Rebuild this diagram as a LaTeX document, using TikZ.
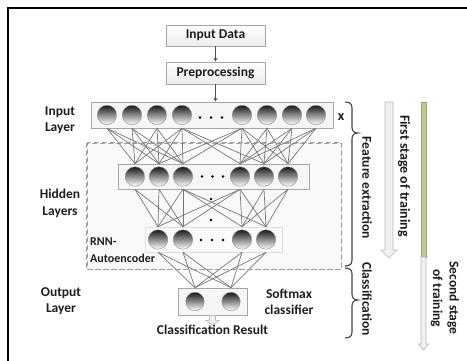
\documentclass[tikz,border=0pt]{standalone}
\usepackage{fontspec}
\setmainfont{Carlito}
\usetikzlibrary{calc,arrows.meta}
\definecolor{txt}{HTML}{1E1E1E}
\definecolor{wire}{HTML}{767676}
\definecolor{olive}{RGB}{190,202,145}
\tikzset{
  stepbox/.style={draw=gray!70, line width=0.6pt, top color=white, bottom color=gray!15,
    minimum width=99pt, minimum height=21pt, inner sep=0pt, text=txt},
  layerbox/.style={draw=gray!70, line width=0.6pt, fill=gray!7, inner sep=0pt},
  neuron/.style={circle, inner sep=0pt, minimum size=19.5pt, draw=gray!85, line width=0.4pt,
    top color=black!90, middle color=black!55, bottom color=white},
  conn/.style={draw=wire, line width=0.7pt},
  flow/.style={draw=black!70, line width=0.8pt, -{Stealth[length=4pt,width=4pt]}},
  lbl/.style={align=center, text=txt, inner sep=0pt},
  dot/.style={circle, fill=black, inner sep=0pt, minimum size=2.8pt},
  bracepath/.style={draw=black!75, line width=1.1pt},
  blockarrow/.style={draw=gray!55, line width=0.6pt, fill=gray!12},
}
\begin{document}
\begin{tikzpicture}[x=1pt,y=-1pt,font=\fontsize{13.5}{16.5}\selectfont\bfseries]
\useasboundingbox (0,0) rectangle (467,360);
% frame
\draw[line width=1.4pt] (8,362) -- (8,8) -- (469,8);

% autoencoder region
\node[draw=gray!75, dashed, dash pattern=on 5pt off 3pt, line width=1pt, fill=gray!5,
  minimum width=254pt, minimum height=126pt, inner sep=0pt] (ae) at (214,206) {};
\node[lbl, anchor=north west, align=left, font=\fontsize{12}{16.5}\selectfont\bfseries] (aelbl) at (90,238) {RNN-\\Autoencoder};

% processing steps
\node[stepbox] (data) at (215.5,35.5) {Input Data};
\node[stepbox, minimum height=22pt] (prep) at (215.5,73) {Preprocessing};

% layer boxes
\node[layerbox, minimum width=242pt, minimum height=26pt] (inl) at (212,115) {};
\node[layerbox, minimum width=191pt, minimum height=25pt] (hb) at (213.5,176.5) {};
\node[layerbox, draw=gray!25, fill=white!97!gray, minimum width=137pt, minimum height=25pt] (gb) at (213.5,239.5) {};
\node[layerbox, minimum width=69pt, minimum height=27pt] (ob) at (212.5,301.5) {};

\draw[flow] (data) -- (prep);
\draw[flow] (prep.south) -- (prep.south |- inl.north);

% neurons
\foreach \n/\x in {1/107,2/132,3/157,4/182,5/242,6/267,7/292,8/316}
  \node[neuron] (i\n) at (\x,115) {};
\foreach \n/\x in {1/135,2/159,3/183,4/240,5/264,6/288}
  \node[neuron] (h\n) at (\x,176.5) {};
\foreach \n/\x in {1/158,2/183,3/242,4/266}
  \node[neuron] (g\n) at (\x,239.5) {};
\foreach \n/\x in {1/195,2/231}
  \node[neuron, minimum size=18.5pt] (o\n) at (\x,301.5) {};

% ellipsis dots
\foreach \x in {200,211,222} \node[dot] at (\x,117.5) {};
\foreach \x in {202,212.5,223} \node[dot] at (\x,176.5) {};
\foreach \x in {201,212,223} \node[dot] at (\x,240) {};
\node[dot] at (211,199) {};
\node[dot] at (211,220) {};

% weights: input -> first hidden
\foreach \a in {1,2,3,4} \foreach \b in {1,2,3}
  \draw[conn] (i\a |- inl.south) -- (h\b |- hb.north);
\foreach \a in {5,6,7,8} \foreach \b in {4,5,6}
  \draw[conn] (i\a |- inl.south) -- (h\b |- hb.north);
\foreach \a/\b in {4/4,4/5,5/3,5/2}
  \draw[conn] (i\a |- inl.south) -- (h\b |- hb.north);
% first hidden -> second hidden
\foreach \a in {1,2,3} \foreach \b in {1,2}
  \draw[conn] (h\a |- hb.south) -- (g\b |- gb.north);
\foreach \a in {4,5,6} \foreach \b in {3,4}
  \draw[conn] (h\a |- hb.south) -- (g\b |- gb.north);
\foreach \a/\b in {3/3,3/4,4/1,4/2}
  \draw[conn] (h\a |- hb.south) -- (g\b |- gb.north);
% second hidden -> output
\foreach \a in {1,2,3,4} \foreach \b in {1,2}
  \draw[conn] (g\a |- gb.south) -- (o\b |- ob.north);

% redraw dashed outline over the wires
\draw[draw=gray!75, dashed, dash pattern=on 5pt off 3pt, line width=1pt] (ae.north west) rectangle (ae.south east);

% side labels
\node[lbl] (linl) at (60,120) {Input\\Layer};
\node[lbl] (lhid) at (60,203.5) {Hidden\\Layers};
\node[lbl] (lout) at (61,301) {Output\\Layer};
\node[lbl] (lsoft) at (289,302) {Softmax\\classifier};
\node[lbl, font=\fontsize{14}{16}\selectfont\bfseries] (xin) at (341,117) {x};

% result arrow and label
\node[lbl, anchor=base] (res) at (212.5,334) {Classification Result};
\coordinate (rs) at (ob.south);
\filldraw[blockarrow] ($(rs)+(-3,0)$) -- ($(rs)+(3,0)$) -- ($(rs)+(3,5)$) -- ($(rs)+(7,5)$)
  -- ($(rs)+(0,10)$) -- ($(rs)+(-7,5)$) -- ($(rs)+(-3,5)$) -- cycle;

% braces
\draw[bracepath] (345,102) .. controls (350,102) and (352,104) .. (352,108) -- (352,127)
  .. controls (352,131) and (354,133) .. (358,133) .. controls (354,133) and (352,135) .. (352,139)
  -- (352,260) .. controls (352,264) and (350,266) .. (345,266);
\draw[bracepath] (345,268) .. controls (350,268) and (352,270) .. (352,274) -- (352,294)
  .. controls (352,298) and (354,300) .. (358,300) .. controls (354,300) and (352,302) .. (352,306)
  -- (352,332) .. controls (352,336) and (350,338) .. (345,338);
\node[lbl, rotate=-90] (lfeat) at (367,188) {Feature extraction};
\node[lbl, rotate=-90] (lcls) at (367,299) {Classification};

% training stages
\filldraw[blockarrow] (385,102) -- (393,102) -- (393,250) -- (397,250) -- (389,258)
  -- (381,250) -- (385,250) -- cycle;
\node[lbl, rotate=-90, font=\fontsize{14}{16.5}\selectfont\bfseries] (lfirst) at (404,176) {First stage of training};
\filldraw[draw=olive!80!black, fill=olive, line width=0.5pt] (421,102) rectangle (426,257);
\filldraw[blockarrow] (421,257) -- (426,257) -- (426,344) -- (428.5,344) -- (423.5,350)
  -- (418.5,344) -- (421,344) -- cycle;
\node[lbl, rotate=-90] (lsecond) at (445,298) {Second stage\\of training};
\end{tikzpicture}
\end{document}
